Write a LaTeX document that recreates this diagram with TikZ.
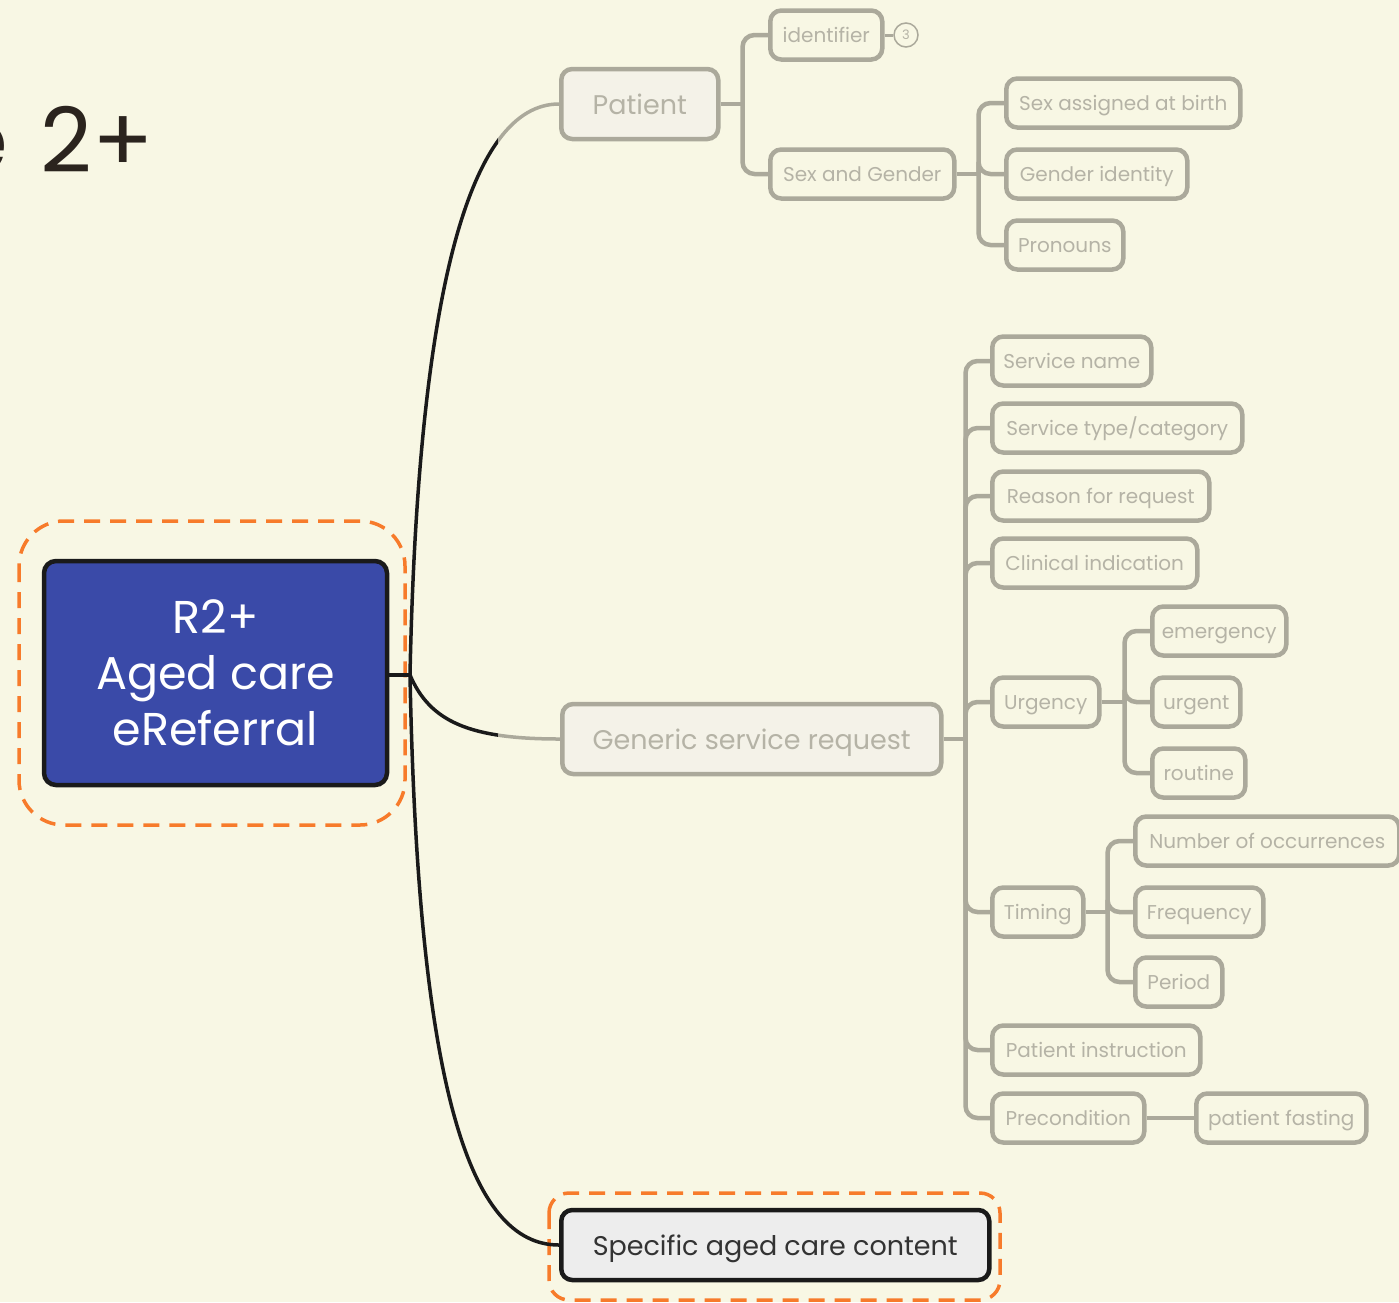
\documentclass[tikz,border=0pt]{standalone}
\usepackage{fontspec}
\setmainfont{Poppins}

\definecolor{paper}{HTML}{F8F7E4}
\definecolor{stem}{HTML}{ABA99B}
\definecolor{stemtext}{HTML}{B5B3A6}
\definecolor{topicfill}{HTML}{F4F2E8}
\definecolor{rootblue}{HTML}{3A4AA8}
\definecolor{focus}{HTML}{F77B2B}
\definecolor{ink}{HTML}{1A1A1A}

\begin{document}
\begin{tikzpicture}[x=1pt,y=-1pt,
    leaf/.style={draw=stem, line width=4.5pt, rounded corners=11pt, fill=paper,
        text=stemtext, font=\fontsize{20}{24}\selectfont, minimum height=49pt,
        text height=19pt, text depth=4pt, inner sep=0pt, anchor=west},
    topic/.style={leaf, fill=topicfill, minimum height=70pt,
        text height=25pt, text depth=5pt, font=\fontsize{27}{30}\selectfont},
    branch/.style={draw=stem, line width=4.5pt, rounded corners=12pt},
    trunk/.style={draw=ink, line width=3.5pt},
    ring/.style={draw=focus, line width=3.5pt, dash pattern=on 16pt off 10pt}]
\useasboundingbox (0,0) rectangle (1399,1302);
\fill[paper] (0,0) rectangle (1399,1302);
\clip (0,0) rectangle (1399,1302);

% title, mostly off the page
\node[anchor=base east, inner sep=0pt, text=ink!90!brown,
    font=\fontsize{90}{96}\selectfont] (heading) at (154,172) {e\hspace{0.36em}2+};

% central topic
\draw[ring, rounded corners=45pt] (19,521) rectangle (405,825);
\node[draw=ink, line width=4.5pt, fill=rootblue, rounded corners=12pt,
    minimum width=343pt, minimum height=224pt, text=white, align=center,
    font=\fontsize{46}{56}\selectfont] (root) at (215.5,673)
    {R2+\\Aged care\\eReferral};
\coordinate (hub) at (410,675);

% main topics
\node[topic, minimum width=157pt] (patient) at (559,104) {Patient};
\node[topic, minimum width=379pt] (generic) at (560,739) {Generic service request};
\draw[ring, rounded corners=20pt] (549,1193) rectangle (1000,1300);
\node[topic, draw=ink, fill=black!7, text=black!80, minimum width=428pt]
    (specific) at (559,1245) {Specific aged care content};

% trunks from the centre: black near the hub, grey near the topics
\draw[trunk] (root.east |- hub) -- (hub);
\begin{scope}
  \clip (0,0) rectangle (498,1302);
  \draw[trunk] (hub) .. controls (418,290) and (470,104) .. (patient.west);
  \draw[trunk] (hub) .. controls (430,722) and (470,739) .. (generic.west);
\end{scope}
\begin{scope}
  \clip (498,0) rectangle (1399,1302);
  \draw[branch, line width=3.5pt] (hub) .. controls (418,290) and (470,104) .. (patient.west);
  \draw[branch, line width=3.5pt] (hub) .. controls (430,722) and (470,739) .. (generic.west);
\end{scope}
\draw[trunk] (hub) .. controls (418,1090) and (470,1245) .. (specific.west);

% patient
\node[leaf, minimum width=112pt] (ident) at (768,35) {identifier};
\node[leaf, minimum width=184pt] (sexgender) at (768,174) {Sex and Gender};
\node[circle, draw=stem, line width=1.5pt, fill=paper, text=stemtext,
    minimum size=24pt, inner sep=0pt, font=\fontsize{13}{13}\selectfont]
    (count) at (906,35) {3};
\draw[branch, line width=3pt] (ident.east) -- (count.west);

\node[leaf, minimum width=234pt] (atbirth) at (1004,103) {Sex assigned at birth};
\node[leaf, minimum width=181pt] (genderid) at (1004,174) {Gender identity};
\node[leaf, minimum width=117pt] (pronouns) at (1004,245) {Pronouns};

\path (patient.east) ++(22,0) coordinate (pj);
\draw[branch] (patient.east) -- (pj);
\foreach \c in {ident,sexgender}
  \draw[branch] (pj) |- (\c.west);
\path (sexgender.east) ++(22,0) coordinate (sj);
\draw[branch] (sexgender.east) -- (sj);
\foreach \c in {atbirth,genderid,pronouns}
  \draw[branch] (sj) |- (\c.west);

% generic service request
\node[leaf, minimum width=159pt] (svcname) at (990,361) {Service name};
\node[leaf, minimum width=250pt] (svctype) at (990,428) {Service type/category};
\node[leaf, minimum width=217pt] (reason) at (990,496) {Reason for request};
\node[leaf, minimum width=205pt] (clinical) at (990,563) {Clinical indication};
\node[leaf, minimum width=107pt] (urgency) at (990,702) {Urgency};
\node[leaf, minimum width=91pt] (timing) at (990,912) {Timing};
\node[leaf, minimum width=208pt] (instruction) at (990,1050) {Patient instruction};
\node[leaf, minimum width=152pt] (precond) at (990,1118) {Precondition};

\node[leaf, minimum width=134pt] (emergency) at (1150,631) {emergency};
\node[leaf, minimum width=88pt] (urgent) at (1150,702) {urgent};
\node[leaf, minimum width=93pt] (routine) at (1150,773) {routine};

\node[leaf, minimum width=264pt] (occurrences) at (1133,841) {Number of occurrences};
\node[leaf, minimum width=128pt] (frequency) at (1133,912) {Frequency};
\node[leaf, minimum width=87pt] (period) at (1133,982) {Period};

\node[leaf, minimum width=170pt] (fasting) at (1194,1118) {patient fasting};

\path (generic.east) ++(22,0) coordinate (gj);
\draw[branch] (generic.east) -- (gj);
\foreach \c in {svcname,svctype,reason,clinical,urgency,timing,instruction,precond}
  \draw[branch] (gj) |- (\c.west);
\path (urgency.east) ++(23,0) coordinate (uj);
\draw[branch] (urgency.east) -- (uj);
\foreach \c in {emergency,urgent,routine}
  \draw[branch] (uj) |- (\c.west);
\path (timing.east) ++(22,0) coordinate (tj);
\draw[branch] (timing.east) -- (tj);
\foreach \c in {occurrences,frequency,period}
  \draw[branch] (tj) |- (\c.west);
\draw[branch] (precond.east) -- (fasting.west);
\end{tikzpicture}
\end{document}
